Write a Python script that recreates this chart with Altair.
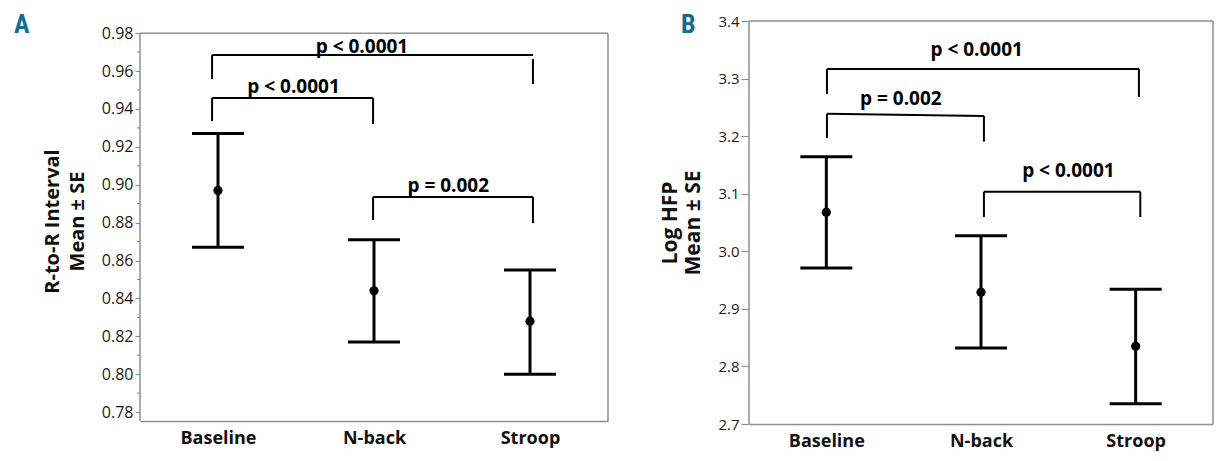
import altair as alt
import pandas as pd

# ---------------- data ----------------
categories = ["Baseline", "N-back", "Stroop"]
cat_pos = [1, 2, 3]
x_domain = [0.5, 3.5]
panel_letters = ["A", "B"]

# Panel A: R-to-R interval (mean +/- SE)
rr_mean = [0.897, 0.844, 0.828]
rr_upper = [0.927, 0.871, 0.855]
rr_lower = [0.867, 0.817, 0.800]
rr_ticks = [0.78, 0.80, 0.82, 0.84, 0.86, 0.88, 0.90, 0.92, 0.94, 0.96, 0.98]
rr_minor = [0.79, 0.81, 0.83, 0.85, 0.87, 0.89, 0.91, 0.93, 0.95, 0.97]
rr_domain = [0.7753, 0.9864]
rr_frame_top = 0.98

# Panel A brackets
a_labels = ["p < 0.0001", "p < 0.0001", "p = 0.002"]
a_x_left = [0.962, 0.962, 1.994]
a_x_right = [3.019, 1.994, 3.019]
a_bar_left = [0.9684, 0.9457, 0.8935]
a_bar_right = [0.9684, 0.9457, 0.8935]
a_left_end = [0.9557, 0.9336, 0.8813]
a_right_top = [0.9663, 0.9457, 0.8935]
a_right_end = [0.9531, 0.9320, 0.8797]
a_lab_x = [1.923, 1.484, 2.476]
a_lab_y = [0.9729, 0.9515, 0.8993]

# Panel B: Log HFP (mean +/- SE)
hfp_mean = [3.068, 2.929, 2.835]
hfp_upper = [3.164, 3.027, 2.934]
hfp_lower = [2.971, 2.832, 2.735]
hfp_ticks = [2.7, 2.8, 2.9, 3.0, 3.1, 3.2, 3.3, 3.4]
hfp_domain = [2.7, 3.4]
hfp_frame_top = 3.4

# Panel B brackets
b_labels = ["p < 0.0001", "p = 0.002", "p < 0.0001"]
b_x_left = [1.004, 1.004, 2.019]
b_x_right = [3.021, 2.019, 3.030]
b_bar_left = [3.3166, 3.2390, 3.1035]
b_bar_right = [3.3166, 3.2350, 3.1035]
b_left_end = [3.2732, 3.1968, 3.0595]
b_right_top = [3.3166, 3.2350, 3.1035]
b_right_end = [3.2680, 3.1904, 3.0595]
b_lab_x = [1.972, 1.482, 2.565]
b_lab_y = [3.349, 3.264, 3.139]

FONT = "Open Sans"
GRAY = "#8f8f8f"
TEAL = "#136b92"
label_expr = "[" + ",".join("'%s'" % c for c in categories) + "][datum.value - 1]"


def panel(mean, upper, lower, domain, frame_top, ticks, minor, fmt, ytitle,
          title_size, title_lh, title_pad, label_size, tick_size,
          labels, xl, xr, bl, br, le, rt, re, lx, ly, letter,
          letter_dx, letter_dy, w, h):
    yscale = alt.Scale(domain=domain, nice=False, zero=False)
    xscale = alt.Scale(domain=x_domain, nice=False, zero=False)

    xaxis = alt.Axis(values=cat_pos, labelExpr=label_expr, ticks=False,
                     grid=False, title=None, labelFont=FONT,
                     labelFontWeight="bold", labelFontSize=18,
                     labelColor="#111", labelPadding=8, labelOverlap=False,
                     domainColor=GRAY, domainWidth=1.5)
    yaxis = alt.Axis(values=ticks, format=fmt, grid=False, title=ytitle,
                     titleFont=FONT, titleFontWeight="bold",
                     titleFontSize=title_size, titleLineHeight=title_lh,
                     titleColor="#111", titlePadding=title_pad,
                     labelFont=FONT, labelFontSize=label_size,
                     labelColor="#1a1a1a", labelPadding=2, labelOverlap=False,
                     labelFlush=False, tickSize=tick_size, tickColor=GRAY,
                     tickWidth=1.2, domain=False)

    def X(f):
        return alt.X(f, scale=xscale, axis=xaxis)

    def Y(f):
        return alt.Y(f, scale=yscale, axis=yaxis)

    df = pd.DataFrame({"pos": cat_pos, "cat": categories, "mean": mean,
                       "upper": upper, "lower": lower})
    base = alt.Chart(df)

    # frame (left, top, right) drawn through the scales
    frame = pd.DataFrame({
        "x": [x_domain[0], x_domain[0], x_domain[1]],
        "x2": [x_domain[0], x_domain[1], x_domain[1]],
        "y": [domain[0], frame_top, domain[0]],
        "y2": [frame_top, frame_top, frame_top],
    })
    frame_l = alt.Chart(frame).mark_rule(color=GRAY, strokeWidth=1.5).encode(
        x=X("x:Q"), x2="x2:Q", y=Y("y:Q"), y2="y2:Q")

    bars = base.mark_rule(strokeWidth=3, color="black").encode(
        x=X("pos:Q"), y=Y("lower:Q"), y2="upper:Q")
    cap_hi = base.mark_tick(orient="horizontal", size=52, thickness=3,
                            color="black", opacity=1).encode(
        x=X("pos:Q"), y=Y("upper:Q"))
    cap_lo = base.mark_tick(orient="horizontal", size=52, thickness=3,
                            color="black", opacity=1).encode(
        x=X("pos:Q"), y=Y("lower:Q"))
    pts = base.mark_circle(size=85, color="black", opacity=1).encode(
        x=X("pos:Q"), y=Y("mean:Q"))

    segs = []
    for i in range(len(labels)):
        segs.append({"x": xl[i], "x2": xr[i], "y": bl[i], "y2": br[i]})
        segs.append({"x": xl[i], "x2": xl[i], "y": bl[i], "y2": le[i]})
        segs.append({"x": xr[i], "x2": xr[i], "y": rt[i], "y2": re[i]})
    brackets = alt.Chart(pd.DataFrame(segs)).mark_rule(
        strokeWidth=2, color="black").encode(
        x=X("x:Q"), x2="x2:Q", y=Y("y:Q"), y2="y2:Q")
    texts = alt.Chart(pd.DataFrame({"t": labels, "x": lx, "y": ly})).mark_text(
        font=FONT, fontWeight="bold", fontSize=19, color="black",
        baseline="middle", align="center").encode(
        x=X("x:Q"), y=Y("y:Q"), text="t:N")
    layers = [frame_l, bars, cap_hi, cap_lo, pts, brackets, texts]
    if minor:
        mticks = alt.Chart(pd.DataFrame({"v": minor})).mark_rule(
            color=GRAY, strokeWidth=1.2).encode(
            y=Y("v:Q"), x=alt.value(-3), x2=alt.value(0))
        layers.append(mticks)
    let = alt.Chart(pd.DataFrame({"t": [letter]})).mark_text(
        font="Liberation Sans Narrow, Roboto Condensed, Roboto",
        fontWeight="bold", fontSize=26, color=TEAL, align="left",
        baseline="alphabetic").encode(
        text="t:N", x=alt.value(letter_dx), y=alt.value(letter_dy))
    layers.append(let)
    return alt.layer(*layers).properties(width=w, height=h)


pa = panel(rr_mean, rr_upper, rr_lower, rr_domain, rr_frame_top, rr_ticks,
           rr_minor, ".2f", ["R-to-R Interval", "Mean \u00b1 SE"],
           20, 25, 14, 16, 5,
           a_labels, a_x_left, a_x_right, a_bar_left, a_bar_right,
           a_left_end, a_right_top, a_right_end, a_lab_x, a_lab_y,
           panel_letters[0], -126, 12, 468, 400)
pb = panel(hfp_mean, hfp_upper, hfp_lower, hfp_domain, hfp_frame_top,
           hfp_ticks, None, ".1f", ["Log HFP", "Mean \u00b1 SE"],
           21, 23, 14, 15, 8,
           b_labels, b_x_left, b_x_right, b_bar_left, b_bar_right,
           b_left_end, b_right_top, b_right_end, b_lab_x, b_lab_y,
           panel_letters[1], -68, 12, 464, 403)

chart = alt.hconcat(pa, pb, spacing=49).properties(
    padding={"left": 5, "top": 3, "right": 5, "bottom": 5}
).configure_view(stroke="transparent")

chart.save("out.html", embed_options={"renderer": "svg", "actions": False})
